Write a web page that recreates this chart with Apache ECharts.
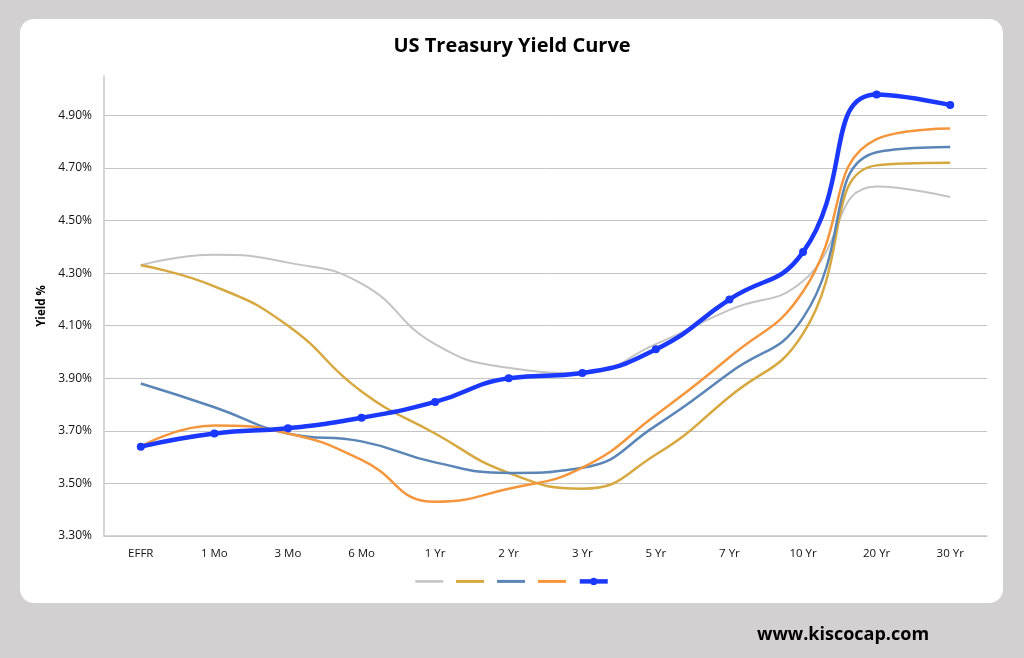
<!DOCTYPE html>
<html>
<head>
<meta charset="utf-8">
<script src="https://cdn.jsdelivr.net/npm/echarts@6/dist/echarts.min.js"></script>
<style>
  html, body { margin: 0; padding: 0; background: #d3d0d1; }
  #card { position: absolute; left: 20px; top: 19px; width: 983px; height: 584px; background: #fff; border-radius: 14px; }
  #chart { position: absolute; left: 0; top: 0; width: 1024px; height: 658px; }
</style>
</head>
<body>
<div id="card"></div>
<div id="chart"></div>
<script>
const categories = ['EFFR', '1 Mo', '3 Mo', '6 Mo', '1 Yr', '2 Yr', '3 Yr', '5 Yr', '7 Yr', '10 Yr', '20 Yr', '30 Yr'];
const grayCurve   = [4.33, 4.37, 4.34, 4.26, 4.03, 3.94, 3.92, 4.03, 4.16, 4.27, 4.63, 4.59];
const goldCurve   = [4.33, 4.25, 4.10, 3.85, 3.69, 3.54, 3.48, 3.61, 3.83, 4.07, 4.71, 4.72];
const steelCurve  = [3.88, 3.79, 3.69, 3.66, 3.58, 3.54, 3.56, 3.72, 3.92, 4.13, 4.76, 4.78];
const orangeCurve = [3.64, 3.72, 3.69, 3.59, 3.43, 3.48, 3.56, 3.76, 3.98, 4.23, 4.81, 4.85];
const blueCurve   = [3.64, 3.69, 3.71, 3.75, 3.81, 3.90, 3.92, 4.01, 4.20, 4.38, 4.98, 4.94];
const yTicks = [3.3, 3.5, 3.7, 3.9, 4.1, 4.3, 4.5, 4.7, 4.9];
const yMin = 3.3, yMax = 5.05, yStep = 0.2;
const seriesNames = [' ', '  ', '   ', '    ', '     '];

const chart = echarts.init(document.getElementById('chart'), null, { renderer: 'canvas' });
const font = 'Open Sans, Lato, sans-serif';
function lineSeries(name, data, color, width, extra) {
  return Object.assign({
    name: name, type: 'line', data: data, smooth: 0.5,
    showSymbol: false, symbol: 'none',
    lineStyle: { color: color, width: width },
    itemStyle: { color: color },
    emphasis: { disabled: true }
  }, extra || {});
}
const gridColors = yTicks.map(() => '#c4c4c4').concat(['rgba(0,0,0,0)']);
const hiddenSym = { color: 'rgba(0,0,0,0)', borderWidth: 0, opacity: 0 };
chart.setOption({
  animation: false,
  backgroundColor: 'transparent',
  title: {
    text: 'US Treasury Yield Curve', left: 'center', top: 31,
    textStyle: { fontFamily: font, fontSize: 20, fontWeight: 'bold', color: '#000' }
  },
  legend: {
    bottom: 68, left: 'center', itemWidth: 28, itemHeight: 9, itemGap: 10,
    formatter: () => '', textStyle: { fontSize: 1, padding: 0 },
    data: [
      { name: seriesNames[0], itemStyle: hiddenSym, lineStyle: { width: 2.5 } },
      { name: seriesNames[1], itemStyle: hiddenSym, lineStyle: { width: 3 } },
      { name: seriesNames[2], itemStyle: hiddenSym, lineStyle: { width: 3 } },
      { name: seriesNames[3], itemStyle: hiddenSym, lineStyle: { width: 3 } },
      { name: seriesNames[4], lineStyle: { width: 4.5 } }
    ]
  },
  grid: { left: 104, right: 37, top: 76, bottom: 122 },
  xAxis: {
    type: 'category', data: categories, boundaryGap: true,
    axisLine: { lineStyle: { color: '#c8c8c8', width: 1.5 } },
    axisTick: { show: false },
    axisLabel: { color: '#111', fontFamily: font, fontSize: 11.5, margin: 12 }
  },
  yAxis: {
    type: 'value', min: yMin, max: yMax, interval: yStep,
    name: 'Yield %', nameLocation: 'middle', nameGap: 52, nameRotate: 90,
    nameTextStyle: { fontFamily: font, fontSize: 11.5, fontWeight: 'bold', color: '#000' },
    axisLine: { show: true, lineStyle: { color: '#c8c8c8', width: 1.5 } },
    axisTick: { show: false },
    axisLabel: {
      color: '#111', fontFamily: font, fontSize: 12, margin: 12, showMaxLabel: false,
      formatter: v => v > 4.95 ? '' : v.toFixed(2) + '%'
    },
    splitLine: { show: true, lineStyle: { color: gridColors, width: 1 } }
  },
  series: [
    lineSeries(seriesNames[0], grayCurve, '#c3c3c3', 2),
    lineSeries(seriesNames[1], goldCurve, '#d6a83f', 2.5),
    lineSeries(seriesNames[2], steelCurve, '#5a85b6', 2.5),
    lineSeries(seriesNames[3], orangeCurve, '#f5963c', 2.5),
    lineSeries(seriesNames[4], blueCurve, '#1a38ff', 4.5, { showSymbol: true, symbol: 'circle', symbolSize: 8 })
  ],
  graphic: [{
    type: 'text', left: 757, top: 626,
    style: { text: 'www.kiscocap.com', font: 'bold 18px ' + font, fill: '#000' }
  }]
});
</script>
</body>
</html>
